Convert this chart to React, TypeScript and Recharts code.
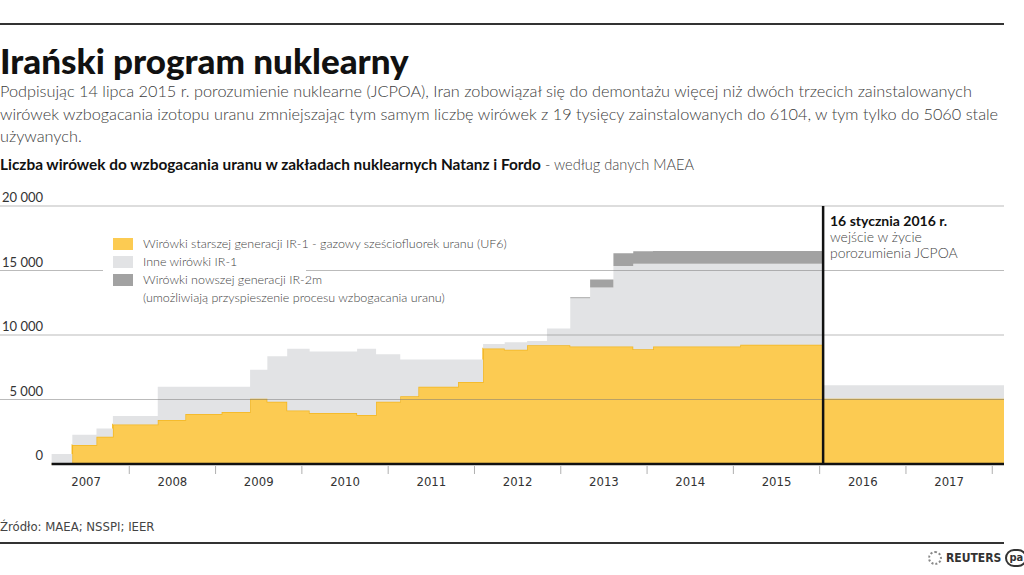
import React from 'react';
import { ComposedChart, Area, XAxis, YAxis, ReferenceLine } from 'recharts';

// IAEA reporting dates (year fractions) and centrifuge counts per series
const dates = [
  2007.1, 2007.34, 2007.62, 2007.81, 2008.33, 2008.65, 2009.07, 2009.4, 2009.6, 2009.83,
  2010.09, 2010.64, 2010.86, 2011.14, 2011.35, 2011.81, 2012.1, 2012.35, 2012.61, 2012.84,
  2013.11, 2013.34, 2013.61, 2013.84, 2014.07, 2015.08, 2016.04, 2018.14,
];
const ir1Uf6 = [
  0, 1470, 2120, 3070, 3410, 3875, 4030, 5050, 4830, 4150,
  3950, 3800, 4830, 5250, 5990, 6350, 8950, 8850, 9200, 9200,
  9100, 9100, 9100, 8900, 9100, 9250, 5060, 5060,
];
const ir1Other = [
  780, 800, 640, 650, 2580, 2115, 1960, 2250, 3520, 4780,
  4770, 5130, 3670, 2860, 2120, 1760, 350, 580, 330, 1310,
  3740, 4590, 6240, 6620, 6420, 6270, 1044, 1044,
];
const ir2m = [
  0, 0, 0, 0, 0, 0, 0, 0, 0, 0,
  0, 0, 0, 0, 0, 0, 0, 0, 0, 0,
  80, 620, 990, 980, 1000, 1000, 0, 0,
];

const yearLabels = [2007, 2008, 2009, 2010, 2011, 2012, 2013, 2014, 2015, 2016, 2017];
const yTicks = [0, 5000, 10000, 15000, 20000];
const gridValues = [5000, 10000, 15000, 20000];
const jcpoaDate = 2016.04;
const xDomain: [number, number] = [2006.502, 2018.136];

const rows = dates.map((t, i) => ({ t, uf6: ir1Uf6[i], other: ir1Other[i], ir2: ir2m[i] }));

// label ticks in the middle of each year, tick marks at year boundaries
const xTicks: number[] = [];
yearLabels.forEach(y => { xTicks.push(y + 0.5); xTicks.push(y + 1); });

const FONT = "Lato, 'Open Sans', sans-serif";
const NARROW = "'Liberation Sans Narrow', 'DejaVu Sans Condensed', sans-serif";

const fmt = (v: number) => String(v).replace(/\B(?=(\d{3})+(?!\d))/g, ' ');

const YearTick = (props: any) => {
  const { x, y, payload } = props;
  const v = payload.value;
  if (Number.isInteger(v)) {
    return <line x1={x} x2={x} y1={y + 2} y2={y + 10} stroke="#b0b0b0" strokeWidth={1} />;
  }
  return (
    <text x={x} y={y + 22} textAnchor="middle" fontSize={13} fontFamily={NARROW} fill="#333">
      {Math.floor(v)}
    </text>
  );
};

const ValueTick = (props: any) => {
  const { y, payload } = props;
  return (
    <text x={43} y={y - 4} textAnchor="end" fontSize={13} fontFamily={FONT} fill="#333">
      {fmt(payload.value)}
    </text>
  );
};

const swatch = (color: string) => (
  <span style={{ display: 'inline-block', width: 20, height: 12, background: color, marginRight: 10, flexShrink: 0, marginTop: 3 }} />
);

export default function App() {
  return (
    <div style={{ position: 'absolute', left: 0, top: 0, width: 1024, height: 575, background: '#fff', overflow: 'hidden', fontFamily: FONT }}>
      <div style={{ position: 'absolute', left: 0, top: 23, width: 1004, height: 2, background: '#333' }} />
      <div style={{ position: 'absolute', left: 0, top: 39, fontSize: 35, fontWeight: 900, color: '#111', lineHeight: '42px', whiteSpace: 'nowrap' }}>
        Irański program nuklearny
      </div>
      <div style={{ position: 'absolute', left: 0, top: 80, fontSize: 16.3, fontWeight: 300, color: '#3c3c3c', lineHeight: '22.5px', whiteSpace: 'nowrap' }}>
        <div>Podpisując 14 lipca 2015 r. porozumienie nuklearne (JCPOA), Iran zobowiązał się do demontażu więcej niż dwóch trzecich zainstalowanych</div>
        <div>wirówek wzbogacania izotopu uranu zmniejszając tym samym liczbę wirówek  z 19 tysięcy zainstalowanych do 6104, w tym tylko do 5060 stale</div>
        <div>używanych.</div>
      </div>
      <div style={{ position: 'absolute', left: 0, top: 154, fontSize: 15.4, color: '#111', lineHeight: '20px', whiteSpace: 'nowrap' }}>
        <span style={{ fontWeight: 700 }}>Liczba wirówek do wzbogacania uranu w zakładach nuklearnych Natanz i Fordo</span>
        <span style={{ fontWeight: 300, color: '#444', fontSize: 14.6 }}> - według danych MAEA</span>
      </div>

      <div style={{ position: 'absolute', left: 0, top: 190 }}>
        <ComposedChart width={1024} height={310} data={rows} margin={{ top: 16, right: 20, left: 0, bottom: 6 }}>
          <XAxis type="number" dataKey="t" domain={xDomain} ticks={xTicks} interval={0} allowDataOverflow
            tick={<YearTick />} tickLine={false} axisLine={false} tickSize={0} tickMargin={0} height={30} />
          <YAxis type="number" domain={[0, 20000]} ticks={yTicks} mirror axisLine={false} tickLine={false}
            tickSize={0} tickMargin={0} tick={<ValueTick />} />
          <Area type="stepAfter" dataKey="uf6" stackId="a" fill="#FCCB52" fillOpacity={1} stroke="#F2B620" strokeWidth={1.5} isAnimationActive={false} />
          <Area type="stepAfter" dataKey="other" stackId="a" fill="#E2E3E5" fillOpacity={1} stroke="none" isAnimationActive={false} />
          <Area type="stepAfter" dataKey="ir2" stackId="a" fill="#A2A2A2" fillOpacity={1} stroke="none" isAnimationActive={false} />
          {gridValues.map(v => (
            <ReferenceLine key={v} y={v} stroke="#777" strokeOpacity={0.5} strokeWidth={1} />
          ))}
          <ReferenceLine segment={[{ x: dates[0], y: 0 }, { x: xDomain[1], y: 0 }]} stroke="#111" strokeWidth={2.5} />
          <ReferenceLine segment={[{ x: jcpoaDate, y: 0 }, { x: jcpoaDate, y: 20000 }]} stroke="#111" strokeWidth={2.5} />
        </ComposedChart>
      </div>

      {/* legend */}
      <div style={{ position: 'absolute', left: 103, top: 262, width: 203, height: 16, background: '#fff' }} />
      <div style={{ position: 'absolute', left: 113, top: 235, fontSize: 12.5, fontWeight: 300, color: '#444', lineHeight: '18px', whiteSpace: 'nowrap' }}>
        <div style={{ display: 'flex' }}>{swatch('#FCCB52')}<span>Wirówki starszej generacji IR-1 - gazowy sześciofluorek uranu (UF6)</span></div>
        <div style={{ display: 'flex' }}>{swatch('#E2E3E5')}<span>Inne wirówki IR-1</span></div>
        <div style={{ display: 'flex' }}>{swatch('#A2A2A2')}<span>Wirówki nowszej generacji IR-2m<br />(umożliwiają przyspieszenie procesu wzbogacania uranu)</span></div>
      </div>

      {/* JCPOA annotation */}
      <div style={{ position: 'absolute', left: 830, top: 213, fontSize: 14, lineHeight: '16px', whiteSpace: 'nowrap' }}>
        <div style={{ fontWeight: 700, color: '#111' }}>16 stycznia 2016 r.</div>
        <div style={{ fontWeight: 300, color: '#444' }}>wejście w życie</div>
        <div style={{ fontWeight: 300, color: '#444' }}>porozumienia JCPOA</div>
      </div>

      <div style={{ position: 'absolute', left: 0, top: 519, fontSize: 13, fontFamily: NARROW, color: '#444' }}>
        Źródło: MAEA; NSSPI; IEER
      </div>
      <div style={{ position: 'absolute', left: 0, top: 542, width: 1004, height: 2, background: '#333' }} />
      <div style={{ position: 'absolute', left: 928, top: 549, display: 'flex', alignItems: 'center', fontFamily: NARROW, fontSize: 12, fontWeight: 700, color: '#333' }}>
        <span style={{ display: 'inline-block', width: 14, height: 14, borderRadius: 7, border: '2px dotted #888', boxSizing: 'border-box', marginRight: 4 }} />
        <span>REUTERS</span>
        <span style={{ display: 'inline-block', marginLeft: 4, width: 22, height: 18, borderRadius: 9, border: '2px solid #333', boxSizing: 'border-box', fontSize: 11, lineHeight: '14px', textAlign: 'center' }}>pa</span>
      </div>
    </div>
  );
}
